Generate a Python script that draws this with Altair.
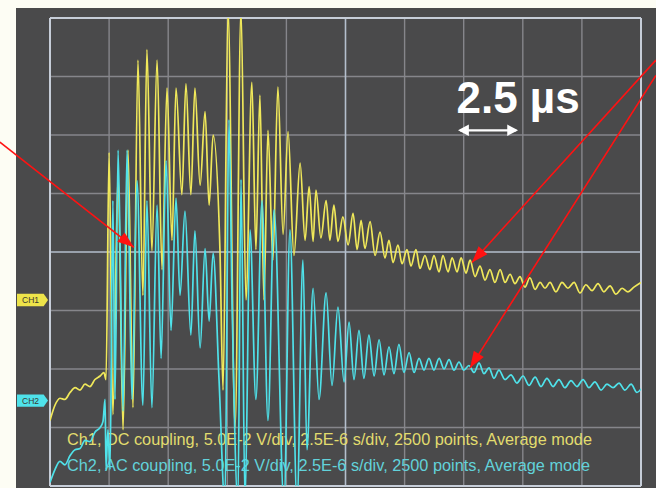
import altair as alt
import pandas as pd

# Oscilloscope capture: time in microseconds (2.5 us/div, 10 div),
# screen voltage in mV (50 mV/div, 8 div).
T_CH1 = [0, 0.21, 0.42, 0.63, 0.85, 1.06, 1.27, 1.48, 1.69, 1.90, 2.12, 2.28,
         2.37, 2.50, 2.66, 2.88, 3.09, 3.30, 3.51, 3.72, 3.93, 4.10, 4.31, 4.53,
         4.74, 4.95, 5.16, 5.33, 5.58, 5.75, 5.96, 6.13, 6.35, 6.56, 6.73, 6.90,
         7.19, 7.32, 7.53, 7.83, 8.08, 8.29, 8.54, 8.71, 8.88, 9.05, 9.22, 9.43,
         9.64, 9.86, 10.07, 10.32, 10.58, 10.79, 10.96, 11.13, 11.25, 11.46, 11.68,
         11.84, 12.01, 12.18, 12.39, 12.61, 12.82, 12.99, 13.16, 13.32, 13.54,
         13.75, 13.96, 14.17, 14.34, 14.51, 14.72, 14.89, 15.10, 15.27, 15.48,
         15.65, 15.86, 16.07, 16.24, 16.46, 16.62, 16.84, 17.01, 17.22, 17.39,
         17.60, 17.77, 17.98, 18.19, 18.40, 18.61, 18.82, 19.04, 19.25, 19.46,
         19.67, 19.88, 20.09, 20.30, 20.52, 20.73, 20.94, 21.15, 21.40, 21.66,
         21.91, 22.17, 22.42, 22.67, 22.93, 23.18, 23.43, 23.69, 23.94, 24.20,
         24.45, 24.70, 25.00]
V_CH1 = [-144, -131, -125, -126, -120, -116, -118, -113, -115, -109, -106, -103,
         -109, 85, -139, 66, -152, 87, -133, 164, -37, 173, 1, 164,
         -15, 140, 10, 140, 49, 144, 49, 140, 57, 120, 40, 100,
         1, -118, 207, -150, 207, -41, 145, 2, 134, -41, 104, -7,
         141, 15, 103, -3, 76, 10, 56, 9, 53, 12, 44,
         10, 40, 9, 30, 6, 33, 2, 27, 3, 26,
         -3, 17, -5, 10, -9, 6, -10, 2, -12, 2,
         -14, -3, -15, -3, -17, -3, -17, -5, -17, -5,
         -18, -7, -21, -12, -24, -15, -26, -15, -26, -19,
         -27, -21, -30, -22, -32, -26, -31, -26, -34, -26,
         -31, -26, -35, -28, -33, -27, -34, -29, -36, -31,
         -34, -30, -26]

T_CH2 = [0, 0.21, 0.42, 0.63, 0.85, 1.06, 1.27, 1.48, 1.69, 1.90, 2.12, 2.24,
         2.33, 2.37, 2.45, 2.54, 2.66, 2.75, 2.88, 3.09, 3.26, 3.47, 3.68, 3.93,
         4.10, 4.31, 4.53, 4.70, 4.91, 5.12, 5.33, 5.50, 5.71, 5.96, 6.13, 6.35,
         6.56, 6.73, 6.90, 7.15, 7.40, 7.57, 7.70, 7.95, 8.08, 8.25, 8.46, 8.71,
         8.97, 9.22, 9.48, 9.90, 10.15, 10.45, 10.70, 10.87, 11.13, 11.38, 11.68,
         11.93, 12.18, 12.44, 12.65, 12.86, 13.07, 13.28, 13.49, 13.71, 13.92,
         14.13, 14.34, 14.55, 14.76, 14.97, 15.19, 15.40, 15.61, 15.82, 16.03,
         16.24, 16.46, 16.67, 16.88, 17.09, 17.30, 17.51, 17.72, 17.94, 18.15,
         18.36, 18.57, 18.78, 18.99, 19.25, 19.50, 19.75, 20.01, 20.26, 20.52,
         20.77, 21.02, 21.28, 21.53, 21.78, 22.04, 22.29, 22.55, 22.80, 23.05,
         23.31, 23.56, 23.82, 24.07, 24.32, 24.58, 24.83, 25.00]
V_CH2 = [-197, -186, -179, -182, -174, -169, -168, -161, -162, -154, -150, -145,
         -126, -186, -152, -186, 44, -126, 87, -136, 87, -126, 61, -131,
         44, -133, 40, -91, 78, -67, 46, -37, 35, -71, 18, -82,
         3, -59, -1, -109, -215, 113, -41, -215, 62, -215, 19, -126,
         44, -144, 36, -215, 19, -215, -7, -169, -31, -126, -35,
         -114, -47, -111, -60, -109, -67, -108, -71, -106, -75,
         -105, -81, -104, -79, -103, -86, -103, -91, -101, -91,
         -101, -91, -100, -92, -101, -94, -101, -97, -103, -95,
         -104, -99, -108, -101, -109, -105, -112, -106, -114, -107,
         -115, -108, -115, -109, -116, -110, -115, -109, -116, -111,
         -118, -113, -116, -112, -118, -113, -120, -117]

GRID_T = [0, 2.5, 5, 7.5, 10, 12.5, 15, 17.5, 20, 22.5, 25]
GRID_V = [-200, -150, -100, -50, 0, 50, 100, 150, 200]

CHANNELS = ["CH1", "CH2"]
CHANNEL_LEVEL = [-41, -127]
FOOTER = [
    "Ch1, DC coupling, 5.0E-2 V/div, 2.5E-6 s/div, 2500 points, Average mode",
    "Ch2, AC coupling, 5.0E-2 V/div, 2.5E-6 s/div, 2500 points, Average mode",
]

# callout arrows: tail and tip in plot units
ARROW_ID = ["a", "a", "b", "b", "c", "c"]
ARROW_T = [-2.12, 3.55, 25.63, 17.85, 25.63, 17.77]
ARROW_V = [94, 4, 164, -9, 151, -99]
HEAD_T = [3.55, 17.85, 17.77]
HEAD_V = [4, -9, -99]
HEAD_ANGLE = [128, 222, 212]

YELLOW = "#f0e85a"
CYAN = "#4fe2ea"

x_scale = alt.Scale(domain=[0, 25], nice=False, zero=False)
y_scale = alt.Scale(domain=[-200, 200], nice=False, zero=False)


def X(f):
    return alt.X(f"{f}:Q", scale=x_scale, axis=None)


def Y(f):
    return alt.Y(f"{f}:Q", scale=y_scale, axis=None)


panel = alt.Chart(pd.DataFrame({"k": [0]})).mark_rect(color="#4a4a4b").encode(
    x=alt.value(-34), x2=alt.value(606), y=alt.value(-10), y2=alt.value(470)
)

minor_t = [t for t in GRID_T if t not in (0, 12.5, 25)]
minor_v = [v for v in GRID_V if v not in (-200, 0, 200)]


def vrules(ts, color, w):
    return alt.Chart(pd.DataFrame({"t": ts})).mark_rule(
        color=color, strokeWidth=w).encode(x=X("t"))


def hrules(vs, color, w):
    return alt.Chart(pd.DataFrame({"v": vs})).mark_rule(
        color=color, strokeWidth=w).encode(y=Y("v"))


grid = [
    vrules(minor_t, "#86868b", 1.4), hrules(minor_v, "#86868b", 1.4),
    vrules([12.5], "#b4bfcd", 1.6), hrules([0], "#b4bfcd", 1.6),
    vrules([0, 25], "#c6cdd8", 2), hrules([-200, 200], "#c6cdd8", 2),
]

ch1 = alt.Chart(pd.DataFrame({"t": T_CH1, "v": V_CH1})).mark_line(
    color=YELLOW, strokeWidth=1.7, clip=True, interpolate="monotone"
).encode(x=X("t"), y=Y("v"))
ch2 = alt.Chart(pd.DataFrame({"t": T_CH2, "v": V_CH2})).mark_line(
    color=CYAN, strokeWidth=1.7, clip=True, interpolate="monotone"
).encode(x=X("t"), y=Y("v"))

footer = alt.Chart(pd.DataFrame({"s": FOOTER, "t": [0.72, 0.72], "v": [-161, -183],
                                 "c": ["#e2dc6e", "#62d2da"]})).mark_text(
    align="left", baseline="middle", font="Liberation Sans", fontSize=16.3
).encode(x=X("t"), y=Y("v"), text="s:N", color=alt.Color("c:N", scale=None))

TAG = "M-1,-0.4L0.72,-0.4L1,0L0.72,0.4L-1,0.4Z"
tag_df = pd.DataFrame({"n": CHANNELS, "t": [-0.74, -0.74], "v": CHANNEL_LEVEL,
                       "c": ["#eee44a", "#4fe2ea"]})
tags = alt.Chart(tag_df).mark_point(
    shape=TAG, filled=True, size=961, opacity=1, strokeWidth=0
).encode(x=X("t"), y=Y("v"), color=alt.Color("c:N", scale=None))
tag_text = alt.Chart(tag_df).mark_text(
    align="center", baseline="middle", font="Liberation Sans", fontSize=8.5,
    color="#3a3a30", dx=-2
).encode(x=X("t"), y=Y("v"), text="n:N")

scale_label = alt.Chart(pd.DataFrame({"s": ["2.5 µs"], "t": [19.80], "v": [119]})).mark_text(
    align="center", baseline="alphabetic", font="Liberation Sans",
    fontWeight="bold", fontSize=44, color="#ffffff"
).encode(x=X("t"), y=Y("v"), text="s:N")
span = alt.Chart(pd.DataFrame({"t": [17.35], "t2": [19.72], "v": [104]})).mark_rule(
    color="#ffffff", strokeWidth=2.2
).encode(x=X("t"), x2="t2:Q", y=Y("v"))
WHITE_HEAD = "M0,0L-1,1.9L1,1.9Z"
span_heads = alt.Chart(pd.DataFrame({"t": [17.26, 19.80], "v": [104, 104],
                                     "a": [270, 90]})).mark_point(
    shape=WHITE_HEAD, filled=True, size=130, opacity=1, color="#ffffff", strokeWidth=0
).encode(x=X("t"), y=Y("v"), angle=alt.Angle("a:Q", scale=None))

arrows = alt.Chart(pd.DataFrame({"id": ARROW_ID, "t": ARROW_T, "v": ARROW_V})).mark_line(
    color="#ff1212", strokeWidth=1.6
).encode(x=X("t"), y=Y("v"), detail="id:N")
RED_HEAD = "M0,0L-0.72,2L0.72,2Z"
heads = alt.Chart(pd.DataFrame({"t": HEAD_T, "v": HEAD_V, "a": HEAD_ANGLE})).mark_point(
    shape=RED_HEAD, filled=True, size=270, opacity=1, color="#ff1212", strokeWidth=0
).encode(x=X("t"), y=Y("v"), angle=alt.Angle("a:Q", scale=None))

chart = alt.layer(
    panel, *grid,
    footer, ch1, ch2, tags, tag_text,
    scale_label, span, span_heads, arrows, heads
).properties(
    width=591, height=468,
    padding={"left": 50, "top": 18, "right": 15, "bottom": 2},
    autosize="none", background="#fdfdf4"
).configure_view(stroke=None)

chart.save("out.html", embed_options={"renderer": "svg", "actions": False})
